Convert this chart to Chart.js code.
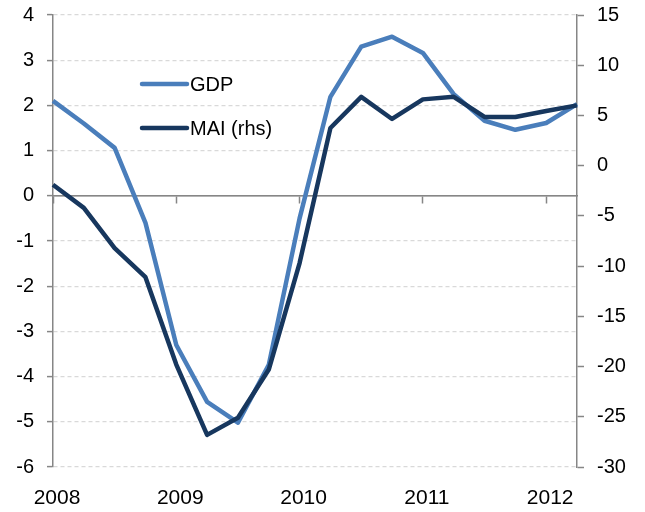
<!DOCTYPE html>
<html>
<head>
<meta charset="utf-8">
<script src="https://cdn.jsdelivr.net/npm/chart.js@4"></script>
<style>
  body { margin: 0; background: #fff; }
  #wrap { width: 645px; height: 512px; }
</style>
</head>
<body>
<div id="wrap"><canvas id="myChart"></canvas></div>
<script>
// quarterly, 2008 Q1 .. 2012 Q2
const quarters = [
  "2008 Q1", "2008 Q2", "2008 Q3", "2008 Q4",
  "2009 Q1", "2009 Q2", "2009 Q3", "2009 Q4",
  "2010 Q1", "2010 Q2", "2010 Q3", "2010 Q4",
  "2011 Q1", "2011 Q2", "2011 Q3", "2011 Q4",
  "2012 Q1", "2012 Q2"
];
const yearLabels = ["2008", "2009", "2010", "2011", "2012"];

const gdp = [2.1, 1.6, 1.06, -0.6, -3.3, -4.56, -5.02, -3.74, -0.5, 2.19,
             3.3, 3.52, 3.16, 2.25, 1.66, 1.46, 1.61, 2.03];
const mai = [-1.9, -4.2, -8.2, -11.1, -19.8, -26.8, -25.1, -20.3, -9.7, 3.75,
             6.85, 4.65, 6.6, 6.85, 4.85, 4.85, 5.45, 6.0];

const GRAY = "#868686";
const GRID = "#d9d9d9";

Chart.defaults.font.family = "'Liberation Sans', Arial, sans-serif";
Chart.defaults.font.size = 20;
Chart.defaults.color = "#000";

// legend drawn inside the plot, like the original
const innerLegend = {
  id: "innerLegend",
  afterDatasetsDraw(chart) {
    const { ctx, chartArea } = chart;
    const x0 = chartArea.left + 89;
    const y0 = chartArea.top + 69;
    chart.data.datasets.forEach((ds, i) => {
      const y = y0 + i * 44;
      ctx.save();
      ctx.strokeStyle = ds.borderColor;
      ctx.lineWidth = 4.5;
      ctx.lineCap = "round";
      ctx.beginPath();
      ctx.moveTo(x0, y);
      ctx.lineTo(x0 + 45, y);
      ctx.stroke();
      ctx.fillStyle = "#000";
      ctx.font = "20px 'Liberation Sans', Arial, sans-serif";
      ctx.textBaseline = "middle";
      ctx.fillText(ds.label, x0 + 48, y + 1);
      ctx.restore();
    });
  }
};

function fixWidth(w) {
  return s => {
    s.width = w;
    s.paddingTop = 0;
    s.paddingBottom = 0;
  };
}

const data = {
  labels: quarters,
  datasets: [{
    label: "GDP",
    data: gdp,
    borderColor: "#4a7ebb",
    borderWidth: 4.5,
    yAxisID: "y",
    order: 1
  },
  {
    label: "MAI (rhs)",
    data: mai,
    borderColor: "#17375e",
    borderWidth: 4.5,
    yAxisID: "y1",
    order: 0
  }]
};

const config = {
  type: "line",
  data,
  options: {
    responsive: true,
    maintainAspectRatio: false,
    animation: false,
    layout: { padding: { top: 15 } },
    elements: {
      point: { radius: 0 },
      line: { tension: 0, borderJoinStyle: "round", borderCapStyle: "butt" }
    },
    plugins: {
      legend: { display: false },
      tooltip: { enabled: false }
    },
    scales: {
      x: {
        type: "category",
        position: { y: 0 },
        offset: false,
        ticks: { display: false, autoSkip: false },
        grid: {
          drawOnChartArea: false,
          drawTicks: true,
          tickLength: 7,
          tickWidth: 1.5,
          tickColor: ctx => ctx.index % 4 === 0 ? GRAY : "transparent"
        },
        border: { display: true, color: GRAY, width: 1.5 },
        afterFit: s => { s.paddingTop = 0; s.paddingBottom = 0; s.paddingLeft = 0; s.paddingRight = 0; }
      },
      x2: {
        type: "category",
        position: "bottom",
        offset: false,
        grid: { display: false, drawTicks: false },
        border: { display: false },
        ticks: {
          autoSkip: false,
          maxRotation: 0,
          padding: 19,
          labelOffset: 4,
          font: { size: 21 },
          callback: (v, i) => i % 4 === 0 ? yearLabels[i / 4] : ""
        },
        afterFit: s => { s.height = 45; s.paddingLeft = 0; s.paddingRight = 0; }
      },
      y: {
        position: "left",
        min: -6,
        max: 4,
        ticks: { stepSize: 1, padding: 13 },
        grid: {
          color: ctx => ctx.tick && ctx.tick.value === 0 ? GRAY : GRID,
          lineWidth: 1.2,
          tickLength: 6,
          tickColor: GRAY,
          tickWidth: 1.5
        },
        border: {
          color: GRAY,
          width: 1.5,
          dash: ctx => ctx.tick && ctx.tick.value === 0 ? [] : [4, 3]
        },
        afterFit: fixWidth(53)
      },
      y1: {
        position: "right",
        min: -30,
        max: 15,
        ticks: { stepSize: 5, padding: 13 },
        grid: {
          drawOnChartArea: false,
          tickLength: 7,
          tickColor: GRAY,
          tickWidth: 1.5
        },
        border: { color: GRAY, width: 1.5 },
        afterFit: fixWidth(68)
      }
    }
  },
  plugins: [innerLegend]
};

new Chart(document.getElementById("myChart"), config);
</script>
</body>
</html>
